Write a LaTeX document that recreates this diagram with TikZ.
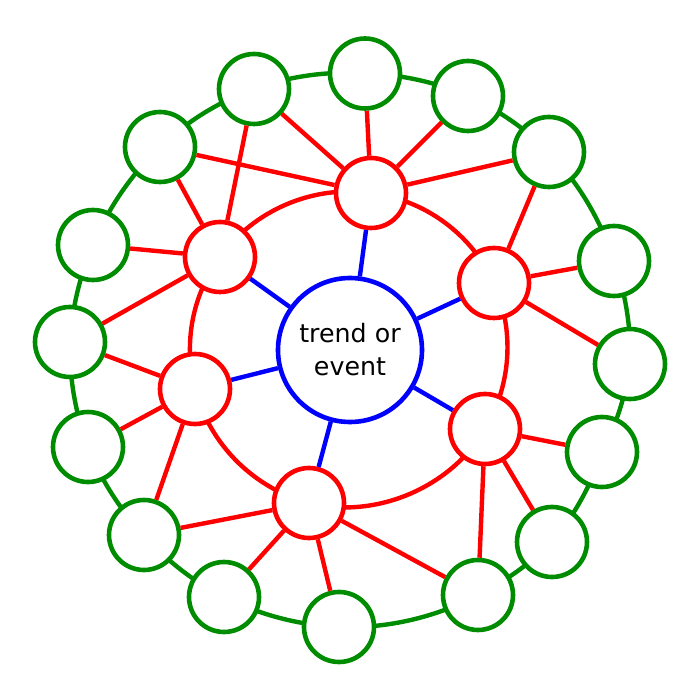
\documentclass[tikz,border=0pt]{standalone}
\usepackage{fontspec}
\setsansfont{DejaVu Sans}
\usetikzlibrary{backgrounds}
\definecolor{ringgreen}{RGB}{0,140,0}
\tikzset{every node/.style={font=\sffamily}}
\tikzset{
  event/.style={circle, draw=blue, line width=4.6pt, minimum size=144pt,
    fill=white, inner sep=0pt, align=center,
    font=\sffamily\fontsize{25.3}{33}\selectfont},
  firstorder/.style={circle, draw=red, line width=4.6pt, minimum size=70pt, fill=white},
  secondorder/.style={circle, draw=ringgreen, line width=4.6pt, minimum size=70pt, fill=white},
  blueline/.style={draw=blue, line width=4.4pt},
  redline/.style={draw=red, line width=4.4pt},
  greenline/.style={draw=ringgreen, line width=4.4pt}
}

\begin{document}
\begin{tikzpicture}[x=1pt, y=1pt]
  \useasboundingbox (-350,-351) rectangle (350,349);
  % centre
  \node[event] (ev) at (0,-1) {trend or\\event};
  % first order impacts
  \foreach \n/\x/\y in {1/21/156, 2/144/66, 3/135/-80, 4/-41/-154, 5/-155/-40, 6/-130/92}
    \node[firstorder] (r\n) at (\x,\y) {};
  % second order impacts
  \foreach \n/\x/\y in {1/15/275.5, 2/118/253, 3/199/197, 4/264/88, 5/280/-15, 6/252/-103,
      7/202/-193, 8/128/-246, 9/-11/-278, 10/-126/-248, 11/-206/-186, 12/-262/-98,
      13/-280/7, 14/-257/104, 15/-190/202, 16/-96/260}
    \node[secondorder] (g\n) at (\x,\y) {};
  % spokes
  \foreach \n in {1,...,6} \draw[blueline] (ev) -- (r\n);
  % rings, behind the circles
  \begin{scope}[on background layer]
    \foreach \a/\b/\bend in {1/2/29, 2/3/27, 3/4/37, 4/5/30, 5/6/25, 6/1/31}
      \draw[redline] (r\a.center) to[bend left=\bend, looseness=0.91] (r\b.center);
    \foreach \a/\b/\bend in {1/2/11, 2/3/10, 3/4/13, 4/5/11, 5/6/10, 6/7/11, 7/8/9, 8/9/15,
        9/10/12, 10/11/11, 11/12/11, 12/13/11, 13/14/10, 14/15/12, 15/16/12, 16/1/12}
      \draw[greenline] (g\a.center) to[bend left=\bend, looseness=0.86] (g\b.center);
  \end{scope}
  % links to the outer ring
  \foreach \r/\g in {1/15, 1/16, 1/1, 1/2, 1/3, 2/3, 2/4, 2/5, 3/6, 3/7, 3/8,
      4/8, 4/9, 4/10, 4/11, 5/11, 5/12, 5/13, 6/13, 6/14, 6/15, 6/16}
    \draw[redline] (r\r) -- (g\g);
\end{tikzpicture}
\end{document}
